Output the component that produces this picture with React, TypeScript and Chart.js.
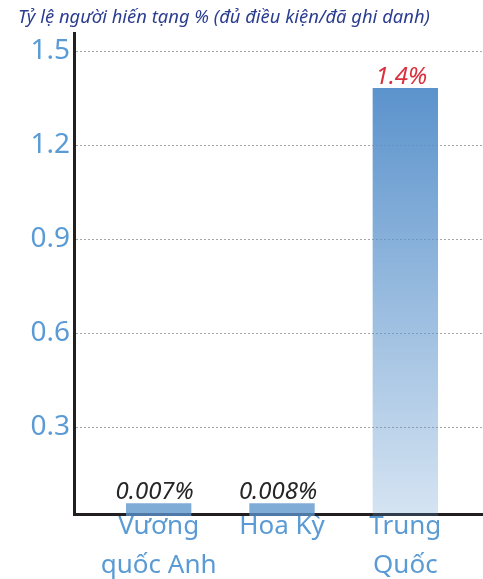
import React, { useEffect, useRef } from "react";
import { Chart, registerables } from "chart.js";

Chart.register(...registerables);

const titleText = "Tỷ lệ người hiến tạng % (đủ điều kiện/đã ghi danh)";
const categories: string[][] = [["Vương", "quốc Anh"], ["Hoa Kỳ"], ["Trung", "Quốc"]];
const barValues: number[] = [0.057, 0.057, 1.383];
const valueLabels: string[] = ["0.007%", "0.008%", "1.4%"];
const valueLabelColors: string[] = ["#262626", "#262626", "#d9303c"];
const yTicks: number[] = [0.3, 0.6, 0.9, 1.2, 1.5];
const yMin = 0.016;
const yMax = 1.562;

const BLUE = "#5b9bd5";
const FONT = "'Noto Sans', 'DejaVu Sans', sans-serif";

const axesPlugin = {
  id: "axesAndGrid",
  beforeDatasetsDraw(chart: any) {
    const { ctx, chartArea, scales } = chart;
    const y = scales.y;
    ctx.save();
    ctx.strokeStyle = "#a6a6a6";
    ctx.lineWidth = 1;
    ctx.setLineDash([2, 2]);
    for (const t of yTicks) {
      const py = Math.round(y.getPixelForValue(t)) + 0.5;
      ctx.beginPath();
      ctx.moveTo(76, py);
      ctx.lineTo(chart.width, py);
      ctx.stroke();
    }
    ctx.setLineDash([]);
    ctx.strokeStyle = "#231f20";
    ctx.lineWidth = 3;
    ctx.beginPath();
    ctx.moveTo(74.5, chartArea.top);
    ctx.lineTo(74.5, chartArea.bottom);
    ctx.stroke();
    ctx.beginPath();
    ctx.moveTo(73, chartArea.bottom - 1.5);
    ctx.lineTo(chart.width, chartArea.bottom - 1.5);
    ctx.stroke();
    ctx.restore();
  },
  afterDatasetsDraw(chart: any) {
    const { ctx } = chart;
    const meta = chart.getDatasetMeta(0);
    ctx.save();
    ctx.font = `italic 24px ${FONT}`;
    ctx.textAlign = "center";
    ctx.textBaseline = "alphabetic";
    meta.data.forEach((el: any, i: number) => {
      ctx.fillStyle = valueLabelColors[i];
      ctx.fillText(valueLabels[i], el.x - 4, el.y - 4);
    });
    ctx.restore();
  },
};

export default function App() {
  const ref = useRef<HTMLCanvasElement | null>(null);
  useEffect(() => {
    if (!ref.current) return;
    const chart = new Chart(ref.current, {
      type: "bar",
      data: {
        labels: categories,
        datasets: [
          {
            data: barValues,
            backgroundColor: (c: any) => {
              const chart = c.chart;
              const area = chart.chartArea;
              if (!area) return "rgba(91,147,204,0.78)";
              const v = c.raw as number;
              if (v < 0.3) return "rgba(91,147,204,0.78)";
              const top = chart.scales.y.getPixelForValue(v);
              const g = chart.ctx.createLinearGradient(0, top, 0, area.bottom);
              g.addColorStop(0, "rgba(91,147,204,1)");
              g.addColorStop(1, "rgba(91,147,204,0.25)");
              return g;
            },
            borderWidth: 0,
            barPercentage: 0.53,
            categoryPercentage: 1,
          },
        ],
      },
      options: {
        responsive: false,
        animation: false,
        layout: { padding: { left: 18, right: 16, top: 0, bottom: 0 } },
        plugins: {
          legend: { display: false },
          tooltip: { enabled: false },
          title: {
            display: true,
            text: titleText,
            align: "start",
            color: "#2b3d8f",
            font: { family: FONT, size: 18.4, style: "italic", weight: "normal", lineHeight: 1.2 },
            padding: { top: 7, bottom: 2.9 },
          },
        },
        scales: {
          x: {
            offset: true,
            grid: { display: false, drawTicks: false },
            border: { display: false },
            ticks: {
              color: BLUE,
              font: { family: FONT, size: 26, lineHeight: 39 / 26 },
              padding: -9,
              maxRotation: 0,
              autoSkip: false,
            },
            afterFit: (s: any) => {
              s.height = 63;
              s.paddingLeft = 0;
              s.paddingRight = 0;
            },
          },
          y: {
            min: yMin,
            max: yMax,
            grid: { display: false, drawTicks: false },
            border: { display: false },
            ticks: {
              color: BLUE,
              font: { family: FONT, size: 28 },
              padding: 27,
              callback: (v: any) => Number(v).toFixed(1),
            },
            afterBuildTicks: (s: any) => {
              s.ticks = yTicks.map((v) => ({ value: v }));
            },
            afterFit: (s: any) => {
              s.width = 79;
              s.paddingTop = 0;
              s.paddingBottom = 0;
            },
          },
        },
      },
      plugins: [axesPlugin],
    });
    return () => chart.destroy();
  }, []);
  return (
    <div style={{ position: "fixed", left: 0, top: 0, width: 483, height: 579, background: "#fff" }}>
      <canvas ref={ref} width={483} height={579} style={{ width: 483, height: 579, display: "block" }} />
    </div>
  );
}
